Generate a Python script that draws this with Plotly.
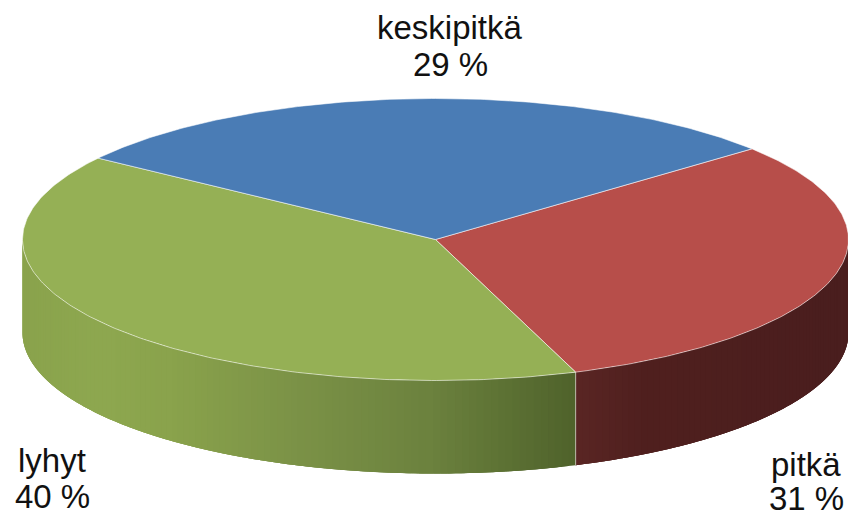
import numpy as np
import plotly.graph_objects as go

# Data (shares; labels show them rounded)
categories = ["pitkä", "lyhyt", "keskipitkä"]
values = [30.6, 40.3, 29.1]
top_colors = ["#B74E4A", "#95B055", "#4A7CB5"]

# Label placement (pixels): centre x, name line y, percent line y
label_xy = [(806, 464, 498), (52, 460, 496), (450, 27, 64)]

# Pie geometry (pixels)
CX, CY, RX, RY, DEPTH = 435.5, 239.5, 413.0, 141.0, 93.0
START = np.deg2rad(40.0)  # parametric angle where the first slice starts, running clockwise

# Side shading stops: x pixel -> rgb
side_stops = {
    "pitkä": [(578, (90, 38, 36)), (640, (80, 32, 31)), (848, (74, 30, 30))],
    "lyhyt": [(22, (138, 163, 76)), (100, (142, 168, 80)), (170, (138, 163, 76)),
              (300, (123, 146, 71)), (430, (108, 130, 62)), (500, (94, 115, 53)), (578, (79, 98, 43))],
    "keskipitkä": [(0, (40, 70, 110)), (848, (40, 70, 110))],
}


def shade(name, x):
    st = side_stops[name]
    xs = [s[0] for s in st]
    return "rgb(%d,%d,%d)" % tuple(np.interp(x, xs, [s[1][i] for s in st]) for i in range(3))


def px(t):
    return CX + RX * np.cos(t)


def py(t):
    return CY - RY * np.sin(t)


fig = go.Figure()
total = sum(values)
edges = [START]
for v in values:
    edges.append(edges[-1] - 2 * np.pi * v / total)

# Visible side walls (front half only: parametric angle between 0 and -180 deg)
for name, a0, a1 in zip(categories, edges[:-1], edges[1:]):
    hi, lo = min(a0, 0.0), max(a1, -np.pi)
    if hi <= lo:
        continue
    step = np.deg2rad(1.0)
    n = max(2, int((hi - lo) / step))
    cuts = np.linspace(hi, lo, n + 1)
    for c0, c1 in zip(cuts[:-1], cuts[1:]):
        # each strip runs a little under the next one, so no seams show
        t = np.linspace(c0, max(c1 - 2 * step, lo), 5)
        xs = np.r_[px(t), px(t[::-1])]
        ys = np.r_[py(t), py(t[::-1]) + DEPTH]
        col = shade(name, float(px((c0 + c1) / 2)))
        fig.add_trace(go.Scatter(x=xs, y=ys, mode="none", fill="toself", fillcolor=col,
                                 hoverinfo="skip", showlegend=False))

# Seam between the front walls
for a in edges[:-1]:
    wrapped = (a + np.pi) % (2 * np.pi) - np.pi
    if -np.pi < wrapped < 0:
        fig.add_trace(go.Scatter(x=[px(wrapped)] * 2, y=[py(wrapped), py(wrapped) + DEPTH], mode="lines",
                                 line=dict(color="rgba(225,225,215,0.7)", width=1),
                                 hoverinfo="skip", showlegend=False))

# Top face
for name, col, a0, a1, v in zip(categories, top_colors, edges[:-1], edges[1:], values):
    t = np.linspace(a0, a1, 200)
    xs = np.r_[CX, px(t), CX]
    ys = np.r_[CY, py(t), CY]
    fig.add_trace(go.Scatter(x=xs, y=ys, mode="lines", fill="toself", fillcolor=col,
                             line=dict(color="rgba(255,255,255,0.55)", width=1),
                             name=name, text=f"{name}: {round(v)} %", hoverinfo="text", showlegend=False))

# Labels
font = dict(family="Liberation Sans, Arial, sans-serif", size=33, color="#111111")
for name, v, (lx, ly1, ly2) in zip(categories, values, label_xy):
    fig.add_annotation(x=lx, y=ly1, text=name, showarrow=False, font=font)
    fig.add_annotation(x=lx, y=ly2, text=f"{round(v)} %", showarrow=False, font=font)

fig.update_layout(
    width=848, height=512, margin=dict(l=0, r=0, t=0, b=0),
    paper_bgcolor="white", plot_bgcolor="white", showlegend=False,
    xaxis=dict(range=[0, 848], visible=False, fixedrange=True),
    yaxis=dict(range=[512, 0], visible=False, fixedrange=True),
)
fig.write_html("out.html", config={"displayModeBar": False},
               post_script="document.body.style.margin='0';document.body.style.overflow='hidden';")
